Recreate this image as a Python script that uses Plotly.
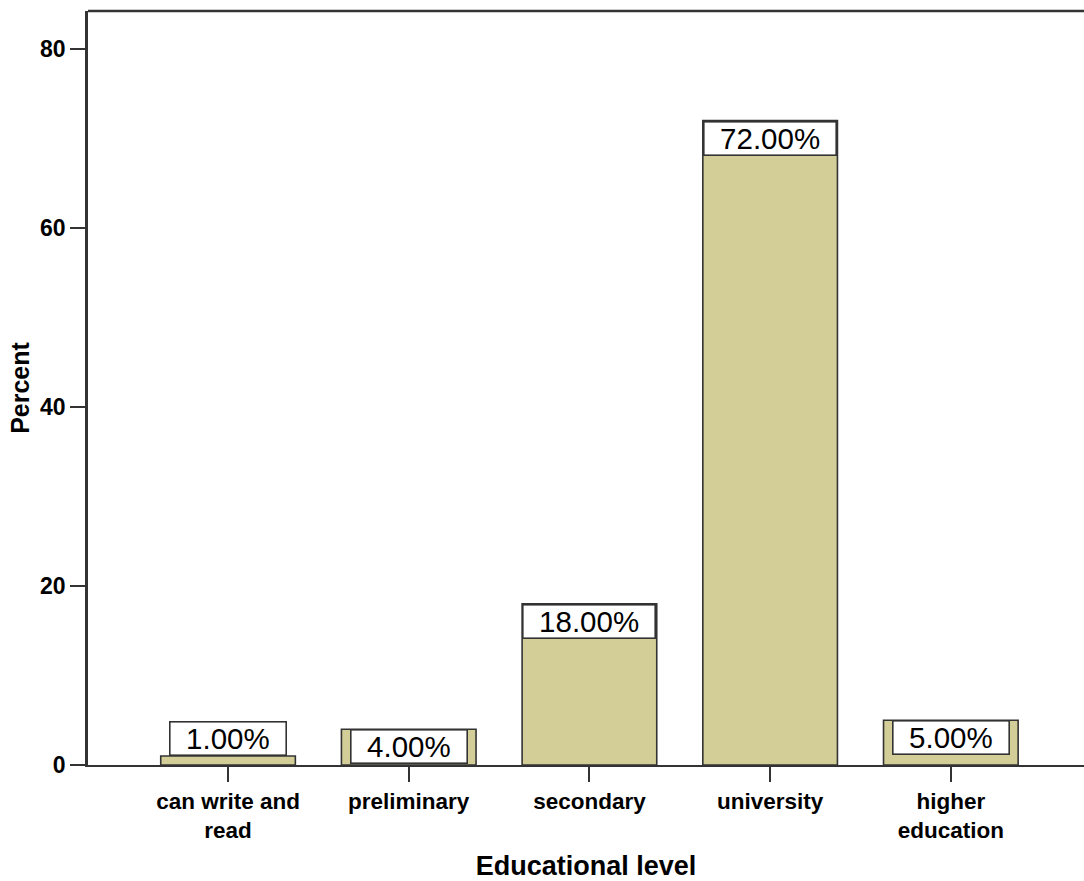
import plotly.graph_objects as go

categories = ["can write and read", "preliminary", "secondary", "university", "higher education"]
tick_labels = ["can write and<br>read", "preliminary", "secondary", "university", "higher<br>education"]
percent = [1.0, 4.0, 18.0, 72.0, 5.0]
y_ticks = [0, 20, 40, 60, 80]

W, H = 1084, 881
M_L, M_R, M_T, M_B = 88, 0, 11, 116
Y_MAX = 84.25
X_RANGE = [-0.775, 4.737]
BAR_W = 0.745
BAR_COLOR = "#D3CE97"
LINE_COLOR = "#333333"

fig = go.Figure()
fig.add_trace(go.Bar(
    x=list(range(len(categories))), y=percent, width=BAR_W,
    marker=dict(color=BAR_COLOR, line=dict(color=LINE_COLOR, width=1.6)),
    hovertext=categories, showlegend=False,
))

plot_h = H - M_T - M_B
plot_w = W - M_L - M_R
px_per_unit = plot_h / Y_MAX
bar_px = BAR_W * plot_w / (X_RANGE[1] - X_RANGE[0])
BOX_H = 34
LABEL_SIZE = 29.5


def text_w(s):
    w = 0
    for ch in s:
        w += {".": 0.278, "%": 0.889}.get(ch, 0.556)
    return w * LABEL_SIZE


for i, v in enumerate(percent):
    label = f"{v:.2f}%"
    box_w = min(bar_px - 1, text_w(label) + 33)
    inside = v * px_per_unit >= BOX_H
    fig.add_annotation(
        x=i, y=v, xref="x", yref="y", text=label, showarrow=False,
        xanchor="center", yanchor="top" if inside else "bottom",
        width=box_w - 2, height=BOX_H - 2, borderpad=0,
        bgcolor="white", bordercolor=LINE_COLOR, borderwidth=1.6,
        font=dict(family="Liberation Sans, Arial, sans-serif", size=LABEL_SIZE, color="black"),
    )

fig.update_layout(
    width=W, height=H,
    margin=dict(l=M_L, r=M_R, t=M_T, b=M_B),
    paper_bgcolor="white", plot_bgcolor="white",
    font=dict(family="Liberation Sans, Arial, sans-serif", color="black"),
    xaxis=dict(
        range=X_RANGE, tickmode="array", tickvals=list(range(len(categories))),
        ticktext=[f"<b>{t}</b>" for t in tick_labels],
        tickfont=dict(size=22.5, color="black"),
        ticks="outside", ticklen=15, tickwidth=2, tickcolor=LINE_COLOR,
        showline=True, linecolor=LINE_COLOR, linewidth=2,
        showgrid=False, zeroline=False, fixedrange=True,
        title=dict(text="<b>Educational level</b>", font=dict(size=27), standoff=20),
    ),
    yaxis=dict(
        range=[0, Y_MAX], tickmode="array", tickvals=y_ticks,
        ticktext=[f"<b>{t}</b>" for t in y_ticks],
        tickfont=dict(size=23, color="black"),
        ticks="outside", ticklen=15, tickwidth=2, tickcolor=LINE_COLOR,
        showline=True, linecolor=LINE_COLOR, linewidth=2.5,
        showgrid=False, zeroline=False, fixedrange=True,
        title=dict(text="<b>Percent</b>", font=dict(size=25), standoff=4),
    ),
    shapes=[dict(type="line", xref="paper", yref="paper", x0=0, x1=1, y0=1, y1=1,
                 line=dict(color=LINE_COLOR, width=2.5))],
)

fig.write_html("out.html")
